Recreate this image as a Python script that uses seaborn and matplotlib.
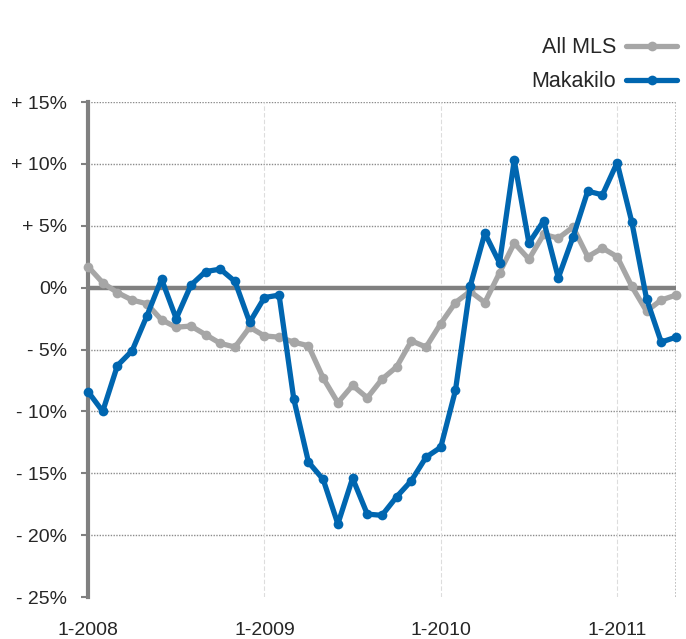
import pandas as pd
import matplotlib.pyplot as plt
import seaborn as sns

# monthly change, Jan 2008 .. May 2011
months = list(range(41))
all_mls = [1.7, 0.4, -0.4, -1.0, -1.3, -2.6, -3.2, -3.1, -3.8, -4.5,
           -4.8, -3.2, -3.9, -4.0, -4.4, -4.7, -7.3, -9.3, -7.9, -8.9,
           -7.4, -6.4, -4.3, -4.8, -2.9, -1.2, -0.3, -1.2, 1.2, 3.6,
           2.3, 4.3, 4.0, 4.9, 2.5, 3.2, 2.5, 0.1, -1.9, -1.0, -0.6]
makakilo = [-8.4, -10.0, -6.3, -5.1, -2.3, 0.7, -2.5, 0.2, 1.3, 1.5,
            0.5, -2.8, -0.8, -0.6, -9.0, -14.1, -15.5, -19.1, -15.4, -18.3,
            -18.4, -16.9, -15.6, -13.7, -12.9, -8.3, 0.1, 4.4, 2.0, 10.3,
            3.6, 5.4, 0.8, 4.1, 7.8, 7.5, 10.1, 5.3, -0.9, -4.4, -4.0]
series_names = ['All MLS', 'Makakilo']
year_ticks = [0, 12, 24, 36]
year_labels = ['1-2008', '1-2009', '1-2010', '1-2011']
y_ticks = [15, 10, 5, 0, -5, -10, -15, -20, -25]
y_labels = ['+ 15%', '+ 10%', '+ 5%', '0%', '- 5%', '- 10%', '- 15%', '- 20%', '- 25%']

df = pd.DataFrame({
    'month': months * 2,
    'change': all_mls + makakilo,
    'series': [series_names[0]] * len(months) + [series_names[1]] * len(months),
})

sns.set_style('white')
plt.rcParams['font.family'] = ['Liberation Sans Narrow', 'Liberation Sans', 'DejaVu Sans']

fig = plt.figure(figsize=(6.86, 6.39), dpi=100)
ax = fig.add_axes([0.1283, 0.0657, 0.857, 0.7746])

# grid first so the lines sit on top
for y in y_ticks[:-1]:
    if y != 0:
        ax.axhline(y, color='#8c8c8c', lw=1, ls=(0, (1, 1)), zorder=1)
for x in year_ticks[1:]:
    ax.axvline(x, color='#dddddd', lw=0.8, ls=(0, (4, 2)), zorder=1)
ax.axvline(40, color='#b5b5b5', lw=1.2, ls=(0, (1, 1)), zorder=1)
ax.axhline(0, color='#808080', lw=3.2, zorder=2)

sns.lineplot(data=df, x='month', y='change', hue='series', hue_order=series_names,
             palette=['#a6a6a6', '#0066b0'], marker='o', markersize=7,
             markeredgewidth=0, linewidth=3.8, ax=ax, zorder=3, clip_on=False)

ax.set_xlim(0, 40)
ax.set_ylim(-25, 15)
ax.set_xticks(year_ticks)
ax.set_xticklabels(year_labels, fontsize=14)
ax.set_yticks(y_ticks)
ax.set_yticklabels(y_labels, fontsize=14)
ax.tick_params(axis='x', length=0, pad=18)
ax.tick_params(axis='y', length=5, width=1.5, color='#808080', pad=10, left=True)
ax.set_xlabel('')
ax.set_ylabel('')

for side in ['top', 'right', 'bottom']:
    ax.spines[side].set_visible(False)
ax.spines['left'].set_color('#808080')
ax.spines['left'].set_linewidth(3)

handles, labels = ax.get_legend_handles_labels()
ax.get_legend().remove()
fig.legend(handles, labels, loc='upper right', bbox_to_anchor=(1.0, 0.955),
           frameon=False, markerfirst=False, fontsize=15.5, handlelength=2.4,
           labelspacing=0.6, handletextpad=0.45, borderaxespad=0.0)

plt.savefig('out.png', dpi=100)
